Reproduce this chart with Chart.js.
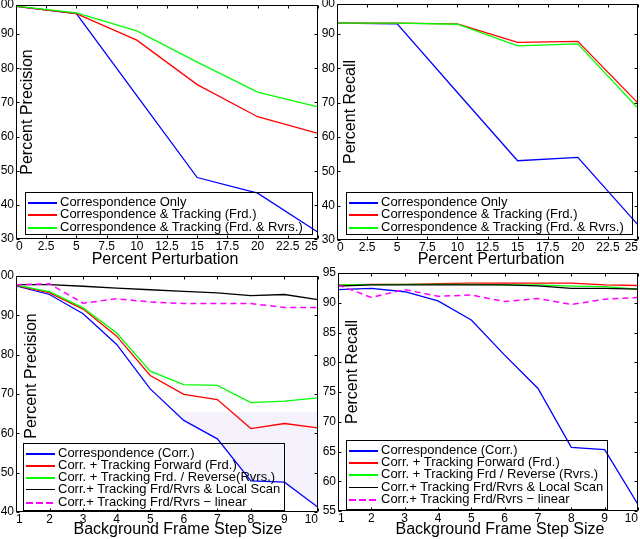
<!DOCTYPE html>
<html>
<head>
<meta charset="utf-8">
<script src="https://cdn.jsdelivr.net/npm/chart.js@4.4.1/dist/chart.umd.min.js"></script>
<style>
  body { margin: 0; background: #fff; width: 640px; height: 539px; overflow: hidden; position: relative;
         font-family: "Liberation Sans", Arial, sans-serif; color: #000; }
  canvas { position: absolute; left: 0; top: 0; }
  .ttl { position: absolute; font-size: 16px; white-space: nowrap; }
  .ylab { transform: translate(-50%, -50%) rotate(-90deg); }
  .xlab { transform: translate(-50%, -50%); }
  .leg { position: absolute; border: 1px solid #000; box-sizing: border-box; font-size: 13px; }
  .leg .ln { position: absolute; left: 2px; width: 29px; height: 2px; }
  .leg .tx { position: absolute; left: 34px; line-height: 16px; white-space: nowrap; }
</style>
</head>
<body>
<canvas id="tl" width="640" height="539"></canvas>
<canvas id="tr" width="640" height="539"></canvas>
<canvas id="bl" width="640" height="539"></canvas>
<canvas id="br" width="640" height="539"></canvas>
<script>
// --- datos ---
var perturbacion = [0, 5, 10, 15, 20, 25];
var perturbTicks = [0, 2.5, 5, 7.5, 10, 12.5, 15, 17.5, 20, 22.5, 25];
var pctTicksTop = [30, 40, 50, 60, 70, 80, 90, 100];

var precCorr = [98.1, 96.0, 72.0, 48.0, 43.4, 32.0];
var precFrd  = [98.1, 96.0, 88.2, 75.2, 65.8, 60.9];
var precRvrs = [98.2, 96.2, 90.9, 81.8, 73.0, 68.7];

var recCorr = [93.2, 93.0, 73.0, 53.1, 54.1, 34.4];
var recFrd  = [93.2, 93.2, 93.0, 87.6, 87.9, 69.9];
var recRvrs = [93.2, 93.2, 92.9, 86.6, 87.2, 68.4];

var pasos = [1, 2, 3, 4, 5, 6, 7, 8, 9, 10];
var precTicksBottom = [40, 50, 60, 70, 80, 90, 100];
var recTicksBottom = [55, 60, 65, 70, 75, 80, 85, 90, 95];

var bPrecCorr   = [97.5, 95.3, 90.4, 82.6, 71.3, 63.3, 58.6, 47.9, 47.6, 41.2];
var bPrecFrd    = [97.6, 95.7, 91.6, 84.7, 74.7, 69.9, 68.6, 61.2, 62.5, 61.4];
var bPrecRvrs   = [97.7, 96.0, 91.9, 85.5, 75.8, 72.4, 72.2, 67.8, 68.2, 69.0];
var bPrecScan   = [97.8, 97.8, 97.4, 96.9, 96.5, 96.1, 95.7, 95.0, 95.3, 94.0];
var bPrecLinear = [97.8, 98.0, 93.1, 94.2, 93.4, 93.0, 93.0, 93.0, 92.0, 92.0];
var bPrecShade = 65.5;

var bRecCorr   = [92.2, 92.4, 91.85, 90.3, 87.1, 81.2, 75.6, 65.7, 65.3, 56.1];
var bRecFrd    = [93.0, 93.1, 93.1, 93.2, 93.3, 93.3, 93.3, 93.3, 93.0, 92.9];
var bRecRvrs   = [93.0, 93.05, 93.1, 93.1, 93.1, 93.0, 93.0, 92.8, 92.7, 92.3];
var bRecScan   = [92.8, 93.0, 93.0, 93.0, 93.0, 93.0, 92.85, 92.4, 92.4, 92.3];
var bRecLinear = [93.0, 90.9, 92.2, 91.1, 91.3, 90.2, 90.7, 89.7, 90.6, 90.9];

var nombresArriba = ["Correspondence Only", "Correspondence & Tracking (Frd.)", "Correspondence & Tracking (Frd. & Rvrs.)"];
var nombresPrec = ["Correspondence (Corr.)", "Corr. + Tracking Forward (Frd.)", "Corr. + Tracking Frd. / Reverse(Rvrs.)",
                   "Corr.+ Tracking Frd/Rvrs & Local Scan", "Corr.+ Tracking Frd/Rvrs \u2212 linear"];
var nombresRec = ["Correspondence (Corr.)", "Corr. + Tracking Forward (Frd.)", "Corr. + Tracking Frd / Reverse (Rvrs.)",
                  "Corr.+ Tracking Frd/Rvrs & Local Scan", "Corr.+ Tracking Frd/Rvrs \u2212 linear"];
var colores = ["#0000ff", "#ff0000", "#00ff00", "#000000", "#ff00ff"];

Chart.defaults.font.family = '"Liberation Sans", Arial, sans-serif';
Chart.defaults.font.size = 12;
Chart.defaults.color = "#000";

// marco tipo MATLAB con ticks hacia dentro
var marco = {
  id: "marco",
  afterDraw: function(chart) {
    var ctx = chart.ctx, a = chart.chartArea, x = chart.scales.x, y = chart.scales.y;
    var L = Math.round(a.left) + 0.5, R = Math.round(a.right) - 0.5;
    var T = Math.round(a.top) + 0.5, B = Math.round(a.bottom) - 0.5;
    ctx.save();
    ctx.strokeStyle = "#000";
    ctx.lineWidth = 1;
    ctx.beginPath();
    ctx.rect(L, T, R - L, B - T);
    x.ticks.forEach(function(t) {
      var px = Math.round(x.getPixelForValue(t.value)) + 0.5;
      ctx.moveTo(px, B); ctx.lineTo(px, B - 3);
      ctx.moveTo(px, T); ctx.lineTo(px, T + 3);
    });
    y.ticks.forEach(function(t) {
      var py = Math.round(y.getPixelForValue(t.value)) + 0.5;
      ctx.moveTo(L, py); ctx.lineTo(L + 3, py);
      ctx.moveTo(R, py); ctx.lineTo(R - 3, py);
    });
    ctx.stroke();
    ctx.restore();
  }
};

function grafico(id, p) {
  var n = p.series.length;
  var datasets = p.series.map(function(s, i) {
    var d = {
      label: s.label,
      data: s.data.map(function(v, j) { return { x: p.xs[j], y: v }; }),
      borderColor: s.color,
      borderWidth: s.dash ? 1.5 : 1.3,
      borderDash: s.dash ? [6, 4] : [],
      pointRadius: 0,
      tension: 0,
      fill: false,
      order: n - i
    };
    if (s.fill) d.fill = s.fill;
    return d;
  });
  return new Chart(document.getElementById(id).getContext("2d"), {
    type: "line",
    data: { datasets: datasets },
    options: {
      responsive: false,
      animation: false,
      events: [],
      layout: { padding: p.pad },
      plugins: { legend: { display: false }, tooltip: { enabled: false } },
      scales: {
        x: {
          type: "linear", min: p.xMin, max: p.xMax,
          grid: { display: false, drawTicks: false }, border: { display: false },
          ticks: { padding: 0, align: "inner", maxRotation: 0,
                   callback: function(v, i) { return String(p.xTicks[i]); } },
          afterBuildTicks: function(s) { s.ticks = p.xTicks.map(function(v) { return { value: v }; }); },
          afterFit: function(s) { s.height = 20; s.paddingLeft = 0; s.paddingRight = 0; }
        },
        y: {
          type: "linear", min: p.yMin, max: p.yMax,
          grid: { display: false, drawTicks: false }, border: { display: false },
          ticks: { padding: 2, callback: function(v, i) { return String(p.yTicks[i]); } },
          afterBuildTicks: function(s) { s.ticks = p.yTicks.map(function(v) { return { value: Math.min(v, p.yMax) }; }); },
          afterFit: function(s) { s.width = 16; s.paddingTop = 0; s.paddingBottom = 0; }
        }
      }
    },
    plugins: [marco]
  });
}

function serie(nombres, listas) {
  return listas.map(function(d, i) {
    return { label: nombres[i], data: d, color: colores[i], dash: i === 4 };
  });
}

grafico("tl", {
  xs: perturbacion, xMin: 0, xMax: 25, xTicks: perturbTicks,
  yMin: 30, yMax: 98.5, yTicks: pctTicksTop,
  pad: { left: 0, top: 5, right: 322, bottom: 280 },
  series: serie(nombresArriba, [precCorr, precFrd, precRvrs])
});

grafico("tr", {
  xs: perturbacion, xMin: 0, xMax: 25, xTicks: perturbTicks,
  yMin: 30, yMax: 98.8, yTicks: pctTicksTop,
  pad: { left: 321, top: 4, right: 2, bottom: 279 },
  series: serie(nombresArriba, [recCorr, recFrd, recRvrs])
});

var sBL = serie(nombresPrec, [bPrecCorr, bPrecFrd, bPrecRvrs, bPrecScan, bPrecLinear]);
sBL[0].fill = { value: bPrecShade, above: "rgba(0,0,0,0)", below: "#f5f2fb" };
grafico("bl", {
  xs: pasos, xMin: 1, xMax: 10, xTicks: pasos,
  yMin: 40, yMax: 100, yTicks: precTicksBottom,
  pad: { left: 0, top: 276, right: 322, bottom: 7 },
  series: sBL
});

grafico("br", {
  xs: pasos, xMin: 1, xMax: 10, xTicks: pasos,
  yMin: 55, yMax: 95, yTicks: recTicksBottom,
  pad: { left: 322, top: 273, right: 2, bottom: 8 },
  series: serie(nombresRec, [bRecCorr, bRecFrd, bRecRvrs, bRecScan, bRecLinear])
});

// titulos de ejes
function titulo(txt, x, y, vertical) {
  var el = document.createElement("div");
  el.className = "ttl " + (vertical ? "ylab" : "xlab");
  el.textContent = txt;
  el.style.left = x + "px";
  el.style.top = y + "px";
  document.body.appendChild(el);
}
titulo("Percent Precision", 27, 112, true);
titulo("Percent Recall", 350, 112, true);
titulo("Percent Precision", 31, 376, true);
titulo("Percent Recall", 352, 372, true);
titulo("Percent Perturbation", 165, 259, false);
titulo("Percent Perturbation", 491, 259, false);
titulo("Background Frame Step Size", 178, 529, false);
titulo("Background Frame Step Size", 500, 529, false);

// leyendas (caja transparente, como en la figura)
function leyenda(caja, nombres, paso, primero) {
  var el = document.createElement("div");
  el.className = "leg";
  el.style.left = caja[0] + "px"; el.style.top = caja[1] + "px";
  el.style.width = caja[2] + "px"; el.style.height = caja[3] + "px";
  nombres.forEach(function(nm, i) {
    var cy = Math.round(primero + i * paso);
    var ln = document.createElement("div");
    ln.className = "ln";
    ln.style.top = (cy - 1) + "px";
    ln.style.background = i === 4
      ? "repeating-linear-gradient(to right, " + colores[i] + " 0 7px, transparent 7px 10px)"
      : colores[i];
    if (i === 3) ln.style.height = "1px";
    var tx = document.createElement("div");
    tx.className = "tx";
    tx.style.top = (cy - 9) + "px";
    tx.textContent = nm;
    el.appendChild(ln); el.appendChild(tx);
  });
  document.body.appendChild(el);
}
leyenda([25, 192, 288, 43], nombresArriba, 12.3, 10);
leyenda([346, 192, 287, 43], nombresArriba, 12.3, 10);
leyenda([23, 443, 262, 68], nombresPrec, 12.25, 9.7);
leyenda([346, 440, 262, 70], nombresRec, 12.2, 10);
</script>
</body>
</html>
